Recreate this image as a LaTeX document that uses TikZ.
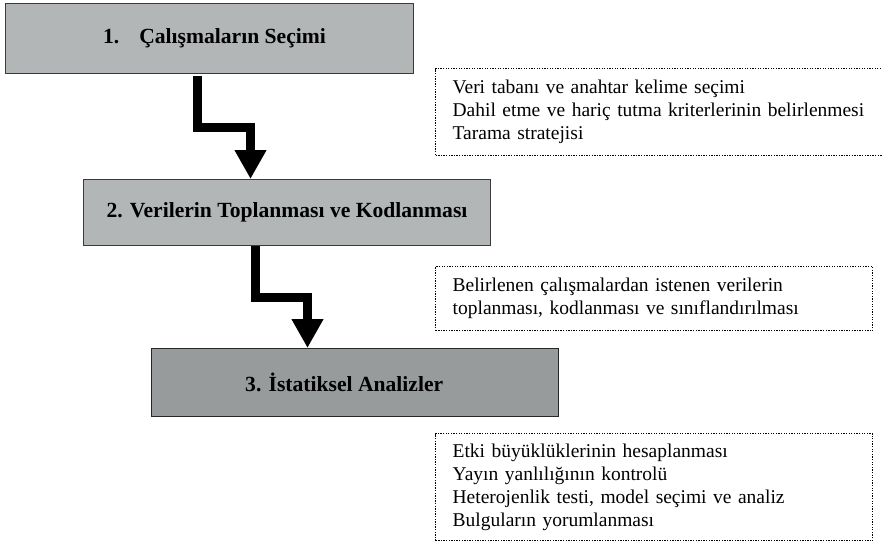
\documentclass[tikz,border=0pt]{standalone}
\usepackage{fontspec}
\setmainfont{Liberation Serif}
\usetikzlibrary{arrows.meta}
\definecolor{boxlight}{HTML}{B3B6B6}
\definecolor{boxdark}{HTML}{979B9B}
\definecolor{boxedge}{HTML}{3A3A3A}
\tikzset{
  stepbox/.style={draw=boxedge, line width=1pt, fill=boxlight, anchor=north west,
    inner sep=0pt, font=\fontsize{21.6}{25}\selectfont\bfseries},
  notebox/.style={draw=black, line width=1.3pt, dash pattern=on 1.3pt off 1.3pt,
    anchor=north west, align=left, inner xsep=17pt, inner ysep=0pt,
    font=\fontsize{19.5}{23}\selectfont},
  bigarrow/.style={line width=9pt, line join=miter, draw=black,
    -{Triangle[width=30pt,length=29pt]}}
}
\begin{document}
\begin{tikzpicture}[x=1pt,y=-1pt]
\useasboundingbox (0,0) rectangle (882,543);
% step boxes
\node[stepbox, minimum width=408pt, minimum height=70pt] (box1) at (5,3)
  {\hspace{10pt}1.\hspace{20pt}Çalışmaların Seçimi};
\node[stepbox, minimum width=407pt, minimum height=66pt] (box2) at (83,179)
  {2. Verilerin Toplanması ve Kodlanması};
\node[stepbox, fill=boxdark, line width=1.4pt, draw=black!85, minimum width=407pt, minimum height=68pt] (box3) at (151,348)
  {3. İstatiksel Analizler\kern22pt};
% note boxes
\node[notebox, minimum width=460pt, minimum height=87pt, text width=426pt] (note1) at (435,68)
  {Veri tabanı ve anahtar kelime seçimi\\
   Dahil etme ve hariç tutma kriterlerinin belirlenmesi\\
   Tarama stratejisi};
\node[notebox, minimum width=437pt, minimum height=64pt, text width=403pt] (note2) at (435,266)
  {Belirlenen çalışmalardan istenen verilerin\\
   toplanması, kodlanması ve sınıflandırılması};
\node[notebox, minimum width=437pt, minimum height=107pt, text width=403pt] (note3) at (435,433)
  {Etki büyüklüklerinin hesaplanması\\
   Yayın yanlılığının kontrolü\\
   Heterojenlik testi, model seçimi ve analiz\\
   Bulguların yorumlanması};
% arrows
\coordinate (e1) at (197.5,127.5);
\coordinate (e2) at (250.5,127.5);
\coordinate (f1) at (255.5,297);
\coordinate (f2) at (307.5,297);
\draw[bigarrow] ([yshift=-2pt]e1 |- box1.south) -- (e1) -- (e2) -- (e2 |- box2.north);
\draw[bigarrow] (f1 |- box2.south) -- (f1) -- (f2) -- (f2 |- box3.north);
\end{tikzpicture}
\end{document}
